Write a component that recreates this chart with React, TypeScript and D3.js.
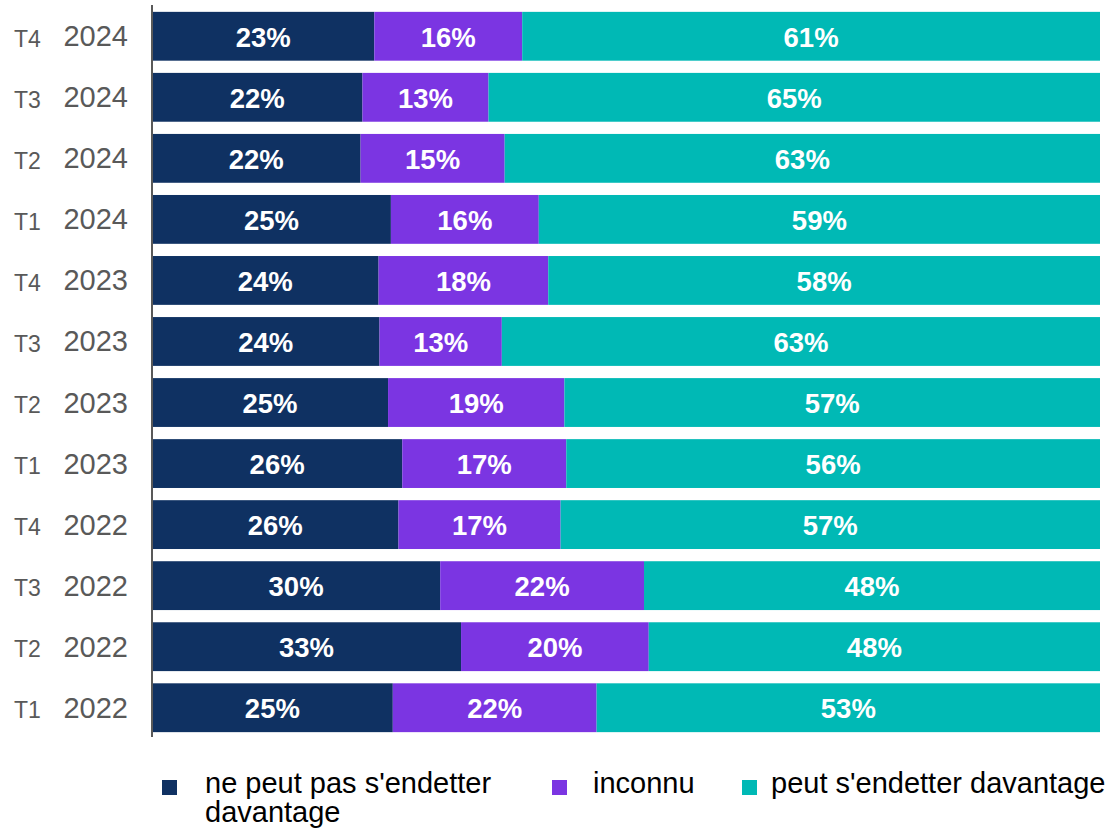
import React from "react";
import * as d3 from "d3";

const quarters = ["T4", "T3", "T2", "T1", "T4", "T3", "T2", "T1", "T4", "T3", "T2", "T1"];
const years = ["2024", "2024", "2024", "2024", "2023", "2023", "2023", "2023", "2022", "2022", "2022", "2022"];
const cannotDebt = [23.45, 22.2, 22.0, 25.2, 23.9, 24.0, 24.9, 26.4, 26.0, 30.4, 32.6, 25.4];
const unknown = [15.6, 13.3, 15.2, 15.6, 17.9, 12.9, 18.6, 17.3, 17.1, 21.5, 19.8, 21.5];
const canDebt = [60.95, 64.5, 62.8, 59.2, 58.2, 63.1, 56.5, 56.3, 56.9, 48.1, 47.6, 53.1];
const seriesNames = ["ne peut pas s'endetter davantage", "inconnu", "peut s'endetter davantage"];
const colors = ["#0F3162", "#7B35E2", "#00B9B5"];

const W = 1112;
const H = 831;
const FONT = "'Liberation Sans', Arial, sans-serif";

export default function App() {
  const rows = quarters.map((q, i) => ({
    key: `${q} ${years[i]}`,
    q,
    year: years[i],
    vals: [cannotDebt[i], unknown[i], canDebt[i]],
  }));

  const x = d3.scaleLinear().domain([0, 100]).range([152, 1100]);
  const y = d3
    .scaleBand<string>()
    .domain(rows.map((r) => r.key))
    .range([5.75, 738.25])
    .paddingInner(0.2)
    .paddingOuter(0.1);

  const stack = d3
    .stack<any>()
    .keys(["0", "1", "2"])
    .value((d: any, k: string) => d.vals[+k]);
  const stacked = stack(rows as any);

  const legendItems = [
    { sx: 162, tx: 205, lines: ["ne peut pas s'endetter", "davantage"] },
    { sx: 552, tx: 593, lines: ["inconnu"] },
    { sx: 742, tx: 771, lines: ["peut s'endetter davantage"] },
  ];

  return (
    <svg
      width={W}
      height={H}
      style={{ position: "absolute", left: 0, top: 0, background: "#fff" }}
      fontFamily={FONT}
    >
      {stacked.map((layer, si) => (
        <g key={si}>
          {layer.map((seg: any, ri: number) => {
            const r = rows[ri];
            const y0 = y(r.key)!;
            const bw = y.bandwidth();
            const x0 = x(seg[0]);
            const x1 = x(seg[1]);
            return (
              <g key={ri}>
                <rect x={x0} y={y0} width={x1 - x0} height={bw} fill={colors[si]} />
                <text
                  x={(x0 + x1) / 2}
                  y={y0 + bw / 2 + 10.5}
                  textAnchor="middle"
                  fill="#fff"
                  fontWeight="bold"
                  fontSize={27.5}
                >
                  {Math.round(r.vals[si])}%
                </text>
              </g>
            );
          })}
        </g>
      ))}
      {rows.map((r) => {
        const cy = y(r.key)! + y.bandwidth() / 2;
        return (
          <g key={r.key} fill="#595959">
            <text x={14} y={cy + 10.5} fontSize={23}>
              {r.q}
            </text>
            <text x={128} y={cy + 10} fontSize={29} textAnchor="end">
              {r.year}
            </text>
          </g>
        );
      })}
      <line x1={152} x2={152} y1={5} y2={737} stroke="#595959" strokeWidth={2} />
      {legendItems.map((it, i) => (
        <g key={i}>
          <rect x={it.sx} y={780} width={15} height={15} fill={colors[i]} />
          {it.lines.map((ln, li) => (
            <text key={li} x={it.tx} y={793 + li * 29} fontSize={29} fill="#000">
              {ln}
            </text>
          ))}
        </g>
      ))}
      <title>{seriesNames.join(", ")}</title>
    </svg>
  );
}
